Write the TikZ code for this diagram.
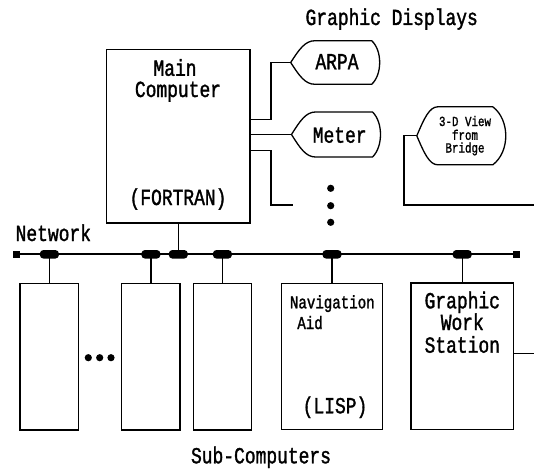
\documentclass[tikz,border=0pt]{standalone}
\usepackage{fontspec}
\newfontfamily\typefont{Liberation Mono}[FakeStretch=0.78,FakeBold=1.4]
\usetikzlibrary{positioning}

\tikzset{
  pics/display/.style n args={4}{code={
    % pointed left end, bulging right end
    \draw[line width=1.3pt,line join=round]
      (0,0) .. controls ({0.35*#2},{-0.6*#1/2}) and ({0.6*#2},{-#1/2}) .. ({#2},{-#1/2})
      -- ({#3},{-#1/2})
      .. controls ({#3+1.33*(#4-#3)},{-0.55*#1/2}) and ({#3+1.33*(#4-#3)},{0.55*#1/2}) .. ({#3},{#1/2})
      -- ({#2},{#1/2})
      .. controls ({0.6*#2},{#1/2}) and ({0.35*#2},{0.6*#1/2}) .. cycle;
    \coordinate (-tip) at (0,0);
  }}
}

\begin{document}
\begin{tikzpicture}[
  x=1pt,y=-1pt,
  line width=1.3pt,
  big/.style={font=\typefont\fontsize{23}{23}\selectfont,inner sep=0pt,anchor=base},
  mid/.style={font=\typefont\fontsize{18.1}{18.1}\selectfont,inner sep=0pt,anchor=base west},
  tiny/.style={font=\typefont\fontsize{13.9}{13.9}\selectfont,inner sep=0pt,anchor=base},
  box/.style={draw,inner sep=0pt,minimum width=#1,minimum height=146.5pt},
  tap/.style={fill,rounded corners=3.5pt,minimum width=19pt,minimum height=8.5pt,inner sep=0pt},
  busend/.style={fill,minimum size=7pt,inner sep=0pt},
  bus/.style={line width=2.3pt}
]
  \useasboundingbox (0,0) rectangle (534,468);

  % main computer and graphic displays
  \node[draw,inner sep=0pt,minimum width=143.3pt,minimum height=173.7pt] (main) at (178.3,136.2) {};
  \node[big] (mainA) at (175,75.8) {Main};
  \node[big] (mainB) at (178,97) {Computer};
  \node[big] (fortran) at (178,205) {(FORTRAN)};

  \node[big] (gdisp) at (391.7,25) {Graphic Displays};
  \pic (arpa) at (290.7,62.5) {display={43.5}{24}{81}{89}};
  \node[big] (arpaT) at (337,69.3) {ARPA};
  \pic (meter) at (291.5,134.5) {display={45}{24}{81}{89}};
  \node[big] (meterT) at (339.7,142.7) {Meter};
  \pic (view) at (416.8,135.8) {display={58}{21}{76}{89}};
  \node[tiny] (viewA) at (465,126) {3-D View};
  \node[tiny] (viewB) at (465,139.8) {from};
  \node[tiny] (viewC) at (465,152.5) {Bridge};

  \coordinate (more) at (293.3,205);
  \coordinate (viewend) at (534,205);
  \draw (main.east |- 0,119.3) -- (271,119.3) |- (arpa-tip);
  \draw (main.east |- meter-tip) -- (meter-tip);
  \draw (main.east |- 0,150.7) -- (271,150.7) |- (more);
  \draw (view-tip) -- (404,135.8) |- (viewend);
  \foreach \y in {188.3,205.7,222.3}
    \fill (330.7,\y) circle (3.6pt);

  % network
  \node[big,anchor=base west] (net) at (15,241) {Network};
  \coordinate (busL) at (16.3,254.3);
  \coordinate (busR) at (516,254.3);
  \draw[bus] (busL) -- (busR);
  \node[busend] (endL) at (busL) {};
  \node[busend] (endR) at (busR) {};

  % sub-computers
  \node[box=58.7pt] (sub1) at (49.4,356.8) {};
  \node[box=58.3pt] (sub2) at (150.9,356.8) {};
  \node[box=58pt] (sub3) at (222.4,356.8) {};
  \node[box=100.6pt] (nav) at (332,356.4) {};
  \node[box=102.3pt] (gws) at (462.2,356.2) {};
  \foreach \x in {88.3,99.7,111}
    \fill (\x,357.7) circle (3.6pt);

  \node[mid] (navA) at (289.3,308.3) {Navigation};
  \node[mid] (navB) at (296.7,329) {Aid};
  \node[big] (lisp) at (335,413.3) {(LISP)};
  \node[big] (gwsA) at (462.3,308.3) {Graphic};
  \node[big] (gwsB) at (462.3,330) {Work};
  \node[big] (gwsC) at (462.3,352.7) {Station};
  \node[big] (subT) at (261,463.3) {Sub-Computers};

  \coordinate (gwsend) at (534,353.3);
  \draw (gws.east |- gwsend) -- (gwsend);

  % taps on the bus
  \foreach \b/\t in {sub1/tap1,sub2/tap2,sub3/tap3,nav/tap4,gws/tap5}{
    \draw (\b.north) -- (\b.north |- busL);
    \node[tap] (\t) at (\b.north |- busL) {};
  }
  \draw (main.south) -- (main.south |- busL);
  \node[tap] (tapM) at (main.south |- busL) {};
\end{tikzpicture}
\end{document}
